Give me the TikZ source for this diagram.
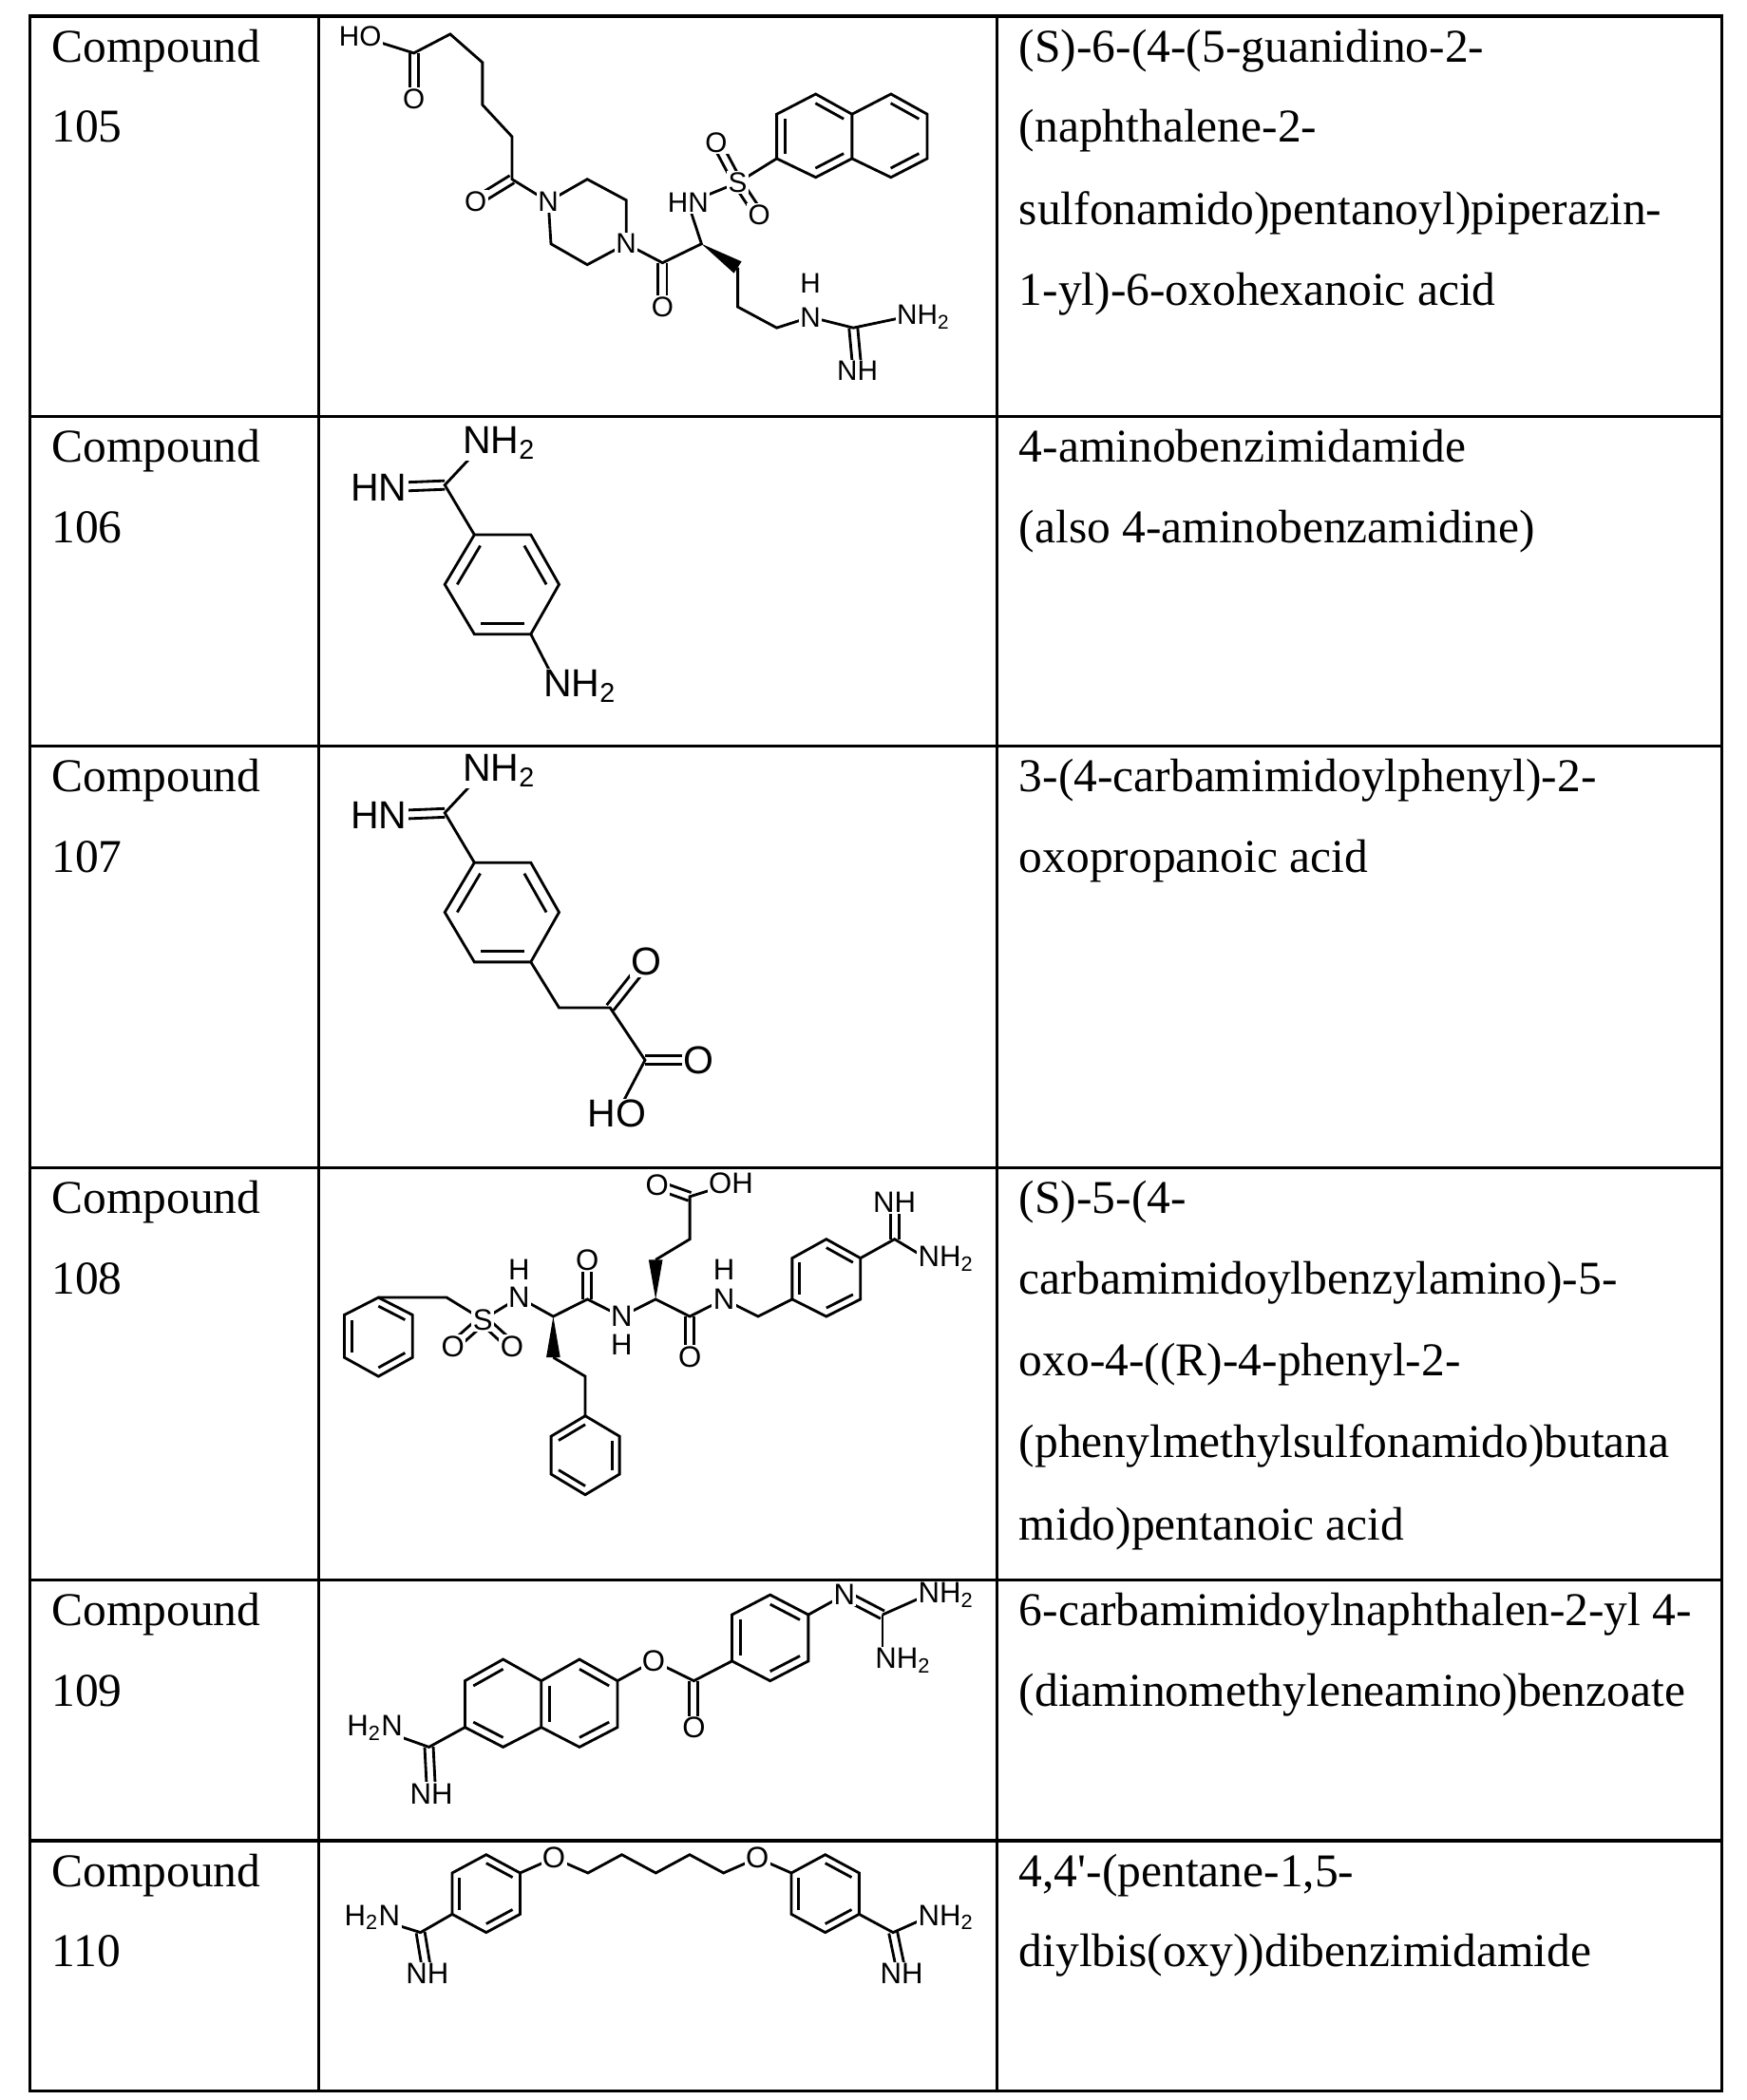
\documentclass[tikz,border=0pt]{standalone}
\usepackage{fontspec}
\setmainfont{Liberation Serif}
\newfontfamily\plainq{Liberation Serif}
\newfontfamily\labfont{Liberation Sans}
\usetikzlibrary{calc}
\tikzset{
  bond/.style={line width=1pt},
  tline/.style={line width=1.1pt},
  lab/.style={fill=white,inner sep=0.5pt,font=\labfont\fontsize{11}{12}\selectfont},
  labL/.style={lab,font=\labfont\fontsize{14.5}{15}\selectfont},
  labS/.style={lab,font=\labfont\fontsize{10.5}{11}\selectfont},
  body/.style={anchor=base west,inner sep=0pt,font=\fontsize{17.5}{20}\selectfont}
}
\newcommand\dbl[2]{\draw[bond] ($(#1)!1.6pt!90:(#2)$) -- ($(#2)!1.6pt!-90:(#1)$);\draw[bond] ($(#1)!1.6pt!-90:(#2)$) -- ($(#2)!1.6pt!90:(#1)$);}
\newcommand\inr[3]{\draw[bond] ($(#1)!0.22!(#3)$) -- ($(#2)!0.22!(#3)$);}
\newcommand\wdg[2]{\fill ($(#1)$) -- ($(#2)!2.6pt!90:(#1)$) -- ($(#2)!2.6pt!-90:(#1)$) -- cycle;}
\begin{document}
\begin{tikzpicture}[x=0.5pt,y=-0.5pt]
\useasboundingbox (0,0) rectangle (1300,1563);
% table
\draw[tline] (22,12) rectangle (1281,1556);
\foreach \yy in {310,555,869,1176,1370} \draw[tline] (22,\yy) -- (1281,\yy);
\draw[tline] (237,12) -- (237,1556);
\draw[tline] (742,12) -- (742,1556);
% left column
\node[body] (t1a) at (38,46) {Compound}; \node[body] (t1b) at (38,106) {105};
\node[body] (t2a) at (38,344) {Compound}; \node[body] (t2b) at (38,404) {106};
\node[body] (t3a) at (38,589) {Compound}; \node[body] (t3b) at (38,649) {107};
\node[body] (t4a) at (38,903) {Compound}; \node[body] (t4b) at (38,963) {108};
\node[body] (t5a) at (38,1210) {Compound}; \node[body] (t5b) at (38,1270) {109};
\node[body] (t6a) at (38,1404) {Compound}; \node[body] (t6b) at (38,1464) {110};
% right column
\node[body] (r1a) at (758,46) {(S)-6-(4-(5-guanidino-2-};
\node[body] (r1b) at (758,106) {(naphthalene-2-};
\node[body] (r1c) at (758,167) {sulfonamido)pentanoyl)piperazin-};
\node[body] (r1d) at (758,227) {1-yl)-6-oxohexanoic acid};
\node[body] (r2a) at (758,344) {4-aminobenzimidamide};
\node[body] (r2b) at (758,404) {(also 4-aminobenzamidine)};
\node[body] (r3a) at (758,589) {3-(4-carbamimidoylphenyl)-2-};
\node[body] (r3b) at (758,649) {oxopropanoic acid};
\node[body] (r4a) at (758,903) {(S)-5-(4-};
\node[body] (r4b) at (758,963) {carbamimidoylbenzylamino)-5-};
\node[body] (r4c) at (758,1024) {oxo-4-((R)-4-phenyl-2-};
\node[body] (r4d) at (758,1085) {(phenylmethylsulfonamido)butana};
\node[body] (r4e) at (758,1146) {mido)pentanoic acid};
\node[body] (r5a) at (758,1210) {6-carbamimidoylnaphthalen-2-yl 4-};
\node[body] (r5b) at (758,1270) {(diaminomethyleneamino)benzoate};
\node[body] (r6a) at (758,1404) {4,4{\plainq '}-(pentane-1,5-};
\node[body] (r6b) at (758,1464) {diylbis(oxy))dibenzimidamide};

%%%%% Compound 105
\coordinate (ho) at (268,27); \coordinate (c1) at (308,39.5); \coordinate (o1) at (308,73.5);
\coordinate (c2) at (335,25.4); \coordinate (c3) at (359,46.5); \coordinate (c4) at (359,78);
\coordinate (c5) at (381,101.7); \coordinate (c6) at (381,133.4); \coordinate (o2) at (354,150);
\coordinate (n1) at (408,150); \coordinate (p1) at (437,133.4); \coordinate (p2) at (466,149);
\coordinate (n2) at (466,181.5); \coordinate (p3) at (437,197); \coordinate (p4) at (410,181.5);
\coordinate (c7) at (493,195.6); \coordinate (o3) at (493,228.4); \coordinate (ca) at (522,181.5);
\coordinate (hn) at (512,151); \coordinate (s) at (549,136); \coordinate (oa) at (533,106); \coordinate (ob) at (565,160);
\coordinate (a1) at (578,118); \coordinate (a2) at (578,85); \coordinate (a3) at (607,70);
\coordinate (a4) at (634,85); \coordinate (a5) at (634,118); \coordinate (a6) at (607,132);
\coordinate (b2) at (663,70); \coordinate (b3) at (690,85); \coordinate (b4) at (690,118); \coordinate (b5) at (663,132);
\coordinate (ra) at (606,101); \coordinate (rb) at (662,101);
\coordinate (w1) at (549,199); \coordinate (w2) at (549,228.4); \coordinate (w3) at (578,244);
\coordinate (ng) at (603,236); \coordinate (hg) at (603,211); \coordinate (cg) at (635,244);
\coordinate (nh2g) at (673,236); \coordinate (nim) at (638,276);
\draw[bond] (ho) -- (c1) -- (c2) -- (c3) -- (c4) -- (c5) -- (c6) -- (n1) -- (p1) -- (p2) -- (n2) -- (p3) -- (p4) -- (n1);
\dbl{c1}{o1} \dbl{c6}{o2} \dbl{c7}{o3}
\draw[bond] (n2) -- (c7) -- (ca) -- (hn) -- (s) -- (a1);
\dbl{s}{oa} \dbl{s}{ob}
\draw[bond] (a1) -- (a2) -- (a3) -- (a4) -- (a5) -- (a6) -- cycle;
\draw[bond] (a4) -- (b2) -- (b3) -- (b4) -- (b5) -- (a5);
\inr{a1}{a2}{ra} \inr{a3}{a4}{ra} \inr{a5}{a6}{ra} \inr{b2}{b3}{rb} \inr{b4}{b5}{rb}
\wdg{ca}{w1}
\draw[bond] (w1) -- (w2) -- (w3) -- (ng) -- (cg) -- (nh2g);
\dbl{cg}{nim}
\node[labS] (l1) at (ho) {HO}; \node[labS] (l2) at (o1) {O}; \node[labS] (l3) at (o2) {O};
\node[labS] (l4) at (n1) {N}; \node[labS] (l5) at (n2) {N}; \node[labS] (l6) at (o3) {O};
\node[labS] (l7) at (hn) {HN}; \node[labS] (l8) at (s) {S}; \node[labS] (l9) at (oa) {O}; \node[labS] (l10) at (ob) {O};
\node[labS] (l11) at (ng) {N}; \node[labS,fill=none] (l12) at (hg) {H};
\node[labS,anchor=west] (l13) at ($(nh2g)+(-7,0)$) {NH\textsubscript{2}}; \node[labS] (l14) at (nim) {NH};

%%%%% Compound 106
\coordinate (d1) at (353,398); \coordinate (d2) at (395,398); \coordinate (d3) at (416,435);
\coordinate (d4) at (395,472); \coordinate (d5) at (353,472); \coordinate (d6) at (331,435);
\coordinate (dc) at (373,435); \coordinate (dam) at (331,361); \coordinate (dhn) at (282,363);
\coordinate (dnh) at (360,330); \coordinate (dn2) at (413,507);
\draw[bond] (d1) -- (d2) -- (d3) -- (d4) -- (d5) -- (d6) -- cycle;
\inr{d6}{d1}{dc} \inr{d2}{d3}{dc} \inr{d4}{d5}{dc}
\draw[bond] (d1) -- (dam) -- (dnh); \dbl{dam}{dhn}
\draw[bond] (d4) -- (dn2);
\node[labL] (m1) at (dhn) {HN}; \node[labL,anchor=south west] (m2) at (343,343) {NH\textsubscript{2}};
\node[labL,anchor=north west] (m3) at (403,497) {NH\textsubscript{2}};

%%%%% Compound 107
\coordinate (e1) at (353,642); \coordinate (e2) at (395,642); \coordinate (e3) at (416,679);
\coordinate (e4) at (395,716); \coordinate (e5) at (353,716); \coordinate (e6) at (331,679);
\coordinate (ec) at (373,679); \coordinate (eam) at (331,605); \coordinate (ehn) at (282,607);
\coordinate (enh) at (360,574);
\coordinate (ech) at (416,750); \coordinate (ek) at (454,750); \coordinate (eo1) at (481,716);
\coordinate (ea) at (480,789); \coordinate (eo2) at (520,789); \coordinate (eho) at (459,829);
\draw[bond] (e1) -- (e2) -- (e3) -- (e4) -- (e5) -- (e6) -- cycle;
\inr{e6}{e1}{ec} \inr{e2}{e3}{ec} \inr{e4}{e5}{ec}
\draw[bond] (e1) -- (eam) -- (enh); \dbl{eam}{ehn}
\draw[bond] (e4) -- (ech) -- (ek) -- (ea) -- (eho);
\dbl{ek}{eo1} \dbl{ea}{eo2}
\node[labL] (m4) at (ehn) {HN}; \node[labL,anchor=south west] (m5) at (343,587) {NH\textsubscript{2}};
\node[labL] (m6) at (eo1) {O}; \node[labL] (m7) at (eo2) {O}; \node[labL] (m8) at (eho) {HO};

%%%%% Compound 108
\coordinate (f1) at (281.6,965.7); \coordinate (f2) at (307,978.7); \coordinate (f3) at (307,1010.3);
\coordinate (f4) at (281.6,1024.4); \coordinate (f5) at (256.2,1010.3); \coordinate (f6) at (256.2,978.7);
\coordinate (fc) at (281.6,995);
\coordinate (fch) at (332.4,965.7); \coordinate (fs) at (359.3,982.2); \coordinate (fo1) at (337,1002); \coordinate (fo2) at (381,1002);
\coordinate (fn1) at (386.3,965.7); \coordinate (fh1) at (386.3,945); \coordinate (fa1) at (411.7,979.8);
\coordinate (fw1) at (411.7,1010.3); \coordinate (fb1) at (435.5,1024.4); \coordinate (g1) at (435.5,1053.8);
\coordinate (g2) at (461,1069); \coordinate (g3) at (461,1097.2); \coordinate (g4) at (435.5,1112.5);
\coordinate (g5) at (410.1,1097.2); \coordinate (g6) at (410.1,1069); \coordinate (gc) at (435.5,1083);
\coordinate (fk1) at (437.1,967); \coordinate (fo3) at (437.1,938); \coordinate (fn2) at (462.5,979.8); \coordinate (fh2) at (462.5,1001);
\coordinate (fa2) at (487.9,967); \coordinate (fw2) at (487.9,937.6); \coordinate (fb2) at (513.3,922.3);
\coordinate (fk3) at (513.3,890.6); \coordinate (fo4) at (489,882); \coordinate (foh) at (544,881);
\coordinate (fk2) at (513.3,979.8); \coordinate (fo5) at (513.3,1010);
\coordinate (fn3) at (538.7,967); \coordinate (fh3) at (538.7,945); \coordinate (fch2) at (564.1,979.8);
\coordinate (h1) at (589.5,967); \coordinate (h2) at (589.5,936.4); \coordinate (h3) at (614.9,922.3);
\coordinate (h4) at (640.3,936.4); \coordinate (h5) at (640.3,967); \coordinate (h6) at (614.9,979.8); \coordinate (hc) at (614.9,951);
\coordinate (fam) at (665.7,922.3); \coordinate (fim) at (665.7,895); \coordinate (fnh2) at (690,937);
\draw[bond] (f1) -- (f2) -- (f3) -- (f4) -- (f5) -- (f6) -- cycle;
\inr{f1}{f2}{fc} \inr{f3}{f4}{fc} \inr{f5}{f6}{fc}
\draw[bond] (f1) -- (fch) -- (fs) -- (fn1) -- (fa1) -- (fk1) -- (fn2) -- (fa2) -- (fk2) -- (fn3) -- (fch2) -- (h1);
\dbl{fs}{fo1} \dbl{fs}{fo2} \dbl{fk1}{fo3} \dbl{fk2}{fo5} \dbl{fk3}{fo4}
\wdg{fa1}{fw1} \wdg{fa2}{fw2}
\draw[bond] (fw1) -- (fb1) -- (g1); \draw[bond] (fw2) -- (fb2) -- (fk3) -- (foh);
\draw[bond] (g1) -- (g2) -- (g3) -- (g4) -- (g5) -- (g6) -- cycle;
\inr{g6}{g1}{gc} \inr{g2}{g3}{gc} \inr{g4}{g5}{gc}
\draw[bond] (h1) -- (h2) -- (h3) -- (h4) -- (h5) -- (h6) -- cycle;
\inr{h1}{h2}{hc} \inr{h3}{h4}{hc} \inr{h5}{h6}{hc}
\draw[bond] (h4) -- (fam) -- (fnh2); \dbl{fam}{fim}
\node[lab] (q1) at (fs) {S}; \node[lab] (q2) at (fo1) {O}; \node[lab] (q3) at (fo2) {O};
\node[lab] (q4) at (fn1) {N}; \node[lab,fill=none] (q5) at (fh1) {H}; \node[lab] (q6) at (fo3) {O};
\node[lab] (q7) at (fn2) {N}; \node[lab,fill=none] (q8) at (fh2) {H}; \node[lab] (q9) at (fo5) {O};
\node[lab] (q10) at (fo4) {O}; \node[lab] (q11) at (foh) {OH};
\node[lab] (q12) at (fn3) {N}; \node[lab,fill=none] (q13) at (fh3) {H};
\node[lab] (q14) at (fim) {NH}; \node[lab,anchor=west] (q15) at ($(fnh2)-(8,0)$) {NH\textsubscript{2}};

%%%%% Compound 109
\coordinate (i1) at (374.4,1235); \coordinate (i2) at (402.8,1251); \coordinate (i3) at (402.8,1285.6);
\coordinate (i4) at (374.4,1300.3); \coordinate (i5) at (346,1285.6); \coordinate (i6) at (346,1251); \coordinate (ic) at (374.4,1268);
\coordinate (j1) at (431.2,1235); \coordinate (j2) at (459.5,1251); \coordinate (j3) at (459.5,1285.6);
\coordinate (j4) at (431.2,1300.3); \coordinate (jc) at (431.2,1268);
\coordinate (iam) at (319.2,1300.3); \coordinate (ih2n) at (279,1286); \coordinate (inh) at (321,1335);
\coordinate (io) at (486.4,1236.3); \coordinate (ik) at (516.3,1251); \coordinate (iko) at (516.3,1286);
\coordinate (k1) at (544.7,1236.3); \coordinate (k2) at (544.7,1201.8); \coordinate (k3) at (573.1,1187);
\coordinate (k4) at (601.5,1201.8); \coordinate (k5) at (601.5,1236.3); \coordinate (k6) at (573.1,1251); \coordinate (kc) at (573.1,1219);
\coordinate (kn) at (628.3,1187); \coordinate (kg) at (656.7,1201.8); \coordinate (knh1) at (690,1187); \coordinate (knh2) at (667,1236);
\draw[bond] (i1) -- (i2) -- (i3) -- (i4) -- (i5) -- (i6) -- cycle;
\draw[bond] (i2) -- (j1) -- (j2) -- (j3) -- (j4) -- (i3);
\inr{i6}{i1}{ic} \inr{i4}{i5}{ic} \inr{i2}{i3}{jc} \inr{j1}{j2}{jc} \inr{j3}{j4}{jc}
\draw[bond] (i5) -- (iam) -- (ih2n); \dbl{iam}{inh}
\draw[bond] (j2) -- (io) -- (ik) -- (k1); \dbl{ik}{iko}
\draw[bond] (k1) -- (k2) -- (k3) -- (k4) -- (k5) -- (k6) -- cycle;
\inr{k1}{k2}{kc} \inr{k3}{k4}{kc} \inr{k5}{k6}{kc}
\draw[bond] (k4) -- (kn); \dbl{kn}{kg} \draw[bond] (kg) -- (knh1); \draw[bond] (kg) -- (656.7,1228) coordinate (kgb);
\node[lab] (u1) at (ih2n) {H\textsubscript{2}N}; \node[lab] (u2) at (inh) {NH};
\node[lab] (u3) at (io) {O}; \node[lab] (u4) at (iko) {O}; \node[lab] (u5) at (kn) {N};
\node[lab,anchor=west] (u6) at ($(knh1)-(8,0)$) {NH\textsubscript{2}};
\node[lab,anchor=west] (u7) at ($(knh2)-(17,0)$) {NH\textsubscript{2}};

%%%%% Compound 110
\coordinate (v1) at (361.8,1380.4); \coordinate (v2) at (387,1394); \coordinate (v3) at (387,1424.7);
\coordinate (v4) at (361.8,1438.3); \coordinate (v5) at (336.5,1424.7); \coordinate (v6) at (336.5,1394); \coordinate (vc) at (361.8,1409);
\coordinate (vam) at (312.9,1438.3); \coordinate (vh2n) at (277,1427); \coordinate (vnh) at (318,1469);
\coordinate (vo1) at (412.2,1382.9); \coordinate (x1) at (437.5,1394); \coordinate (x2) at (462.7,1380.4);
\coordinate (x3) at (488,1394); \coordinate (x4) at (513.2,1380.4); \coordinate (x5) at (538.4,1394); \coordinate (vo2) at (563.6,1382.9);
\coordinate (y1) at (588.9,1394); \coordinate (y2) at (614.1,1380.4); \coordinate (y3) at (639.3,1394);
\coordinate (y4) at (639.3,1424.7); \coordinate (y5) at (614.1,1438.3); \coordinate (y6) at (588.9,1424.7); \coordinate (yc) at (614.1,1409);
\coordinate (yam) at (664.6,1438.3); \coordinate (ynh2) at (690,1427); \coordinate (ynh) at (671,1469);
\draw[bond] (v1) -- (v2) -- (v3) -- (v4) -- (v5) -- (v6) -- cycle;
\inr{v1}{v2}{vc} \inr{v3}{v4}{vc} \inr{v5}{v6}{vc}
\draw[bond] (v5) -- (vam) -- (vh2n); \dbl{vam}{vnh}
\draw[bond] (v2) -- (vo1) -- (x1) -- (x2) -- (x3) -- (x4) -- (x5) -- (vo2) -- (y1);
\draw[bond] (y1) -- (y2) -- (y3) -- (y4) -- (y5) -- (y6) -- cycle;
\inr{y2}{y3}{yc} \inr{y4}{y5}{yc} \inr{y6}{y1}{yc}
\draw[bond] (y4) -- (yam) -- (ynh2); \dbl{yam}{ynh}
\node[lab] (z1) at (vh2n) {H\textsubscript{2}N}; \node[lab] (z2) at (vnh) {NH};
\node[lab] (z3) at (vo1) {O}; \node[lab] (z4) at (vo2) {O};
\node[lab,anchor=west] (z5) at ($(ynh2)-(8,0)$) {NH\textsubscript{2}}; \node[lab] (z6) at (ynh) {NH};
\end{tikzpicture}
\end{document}
